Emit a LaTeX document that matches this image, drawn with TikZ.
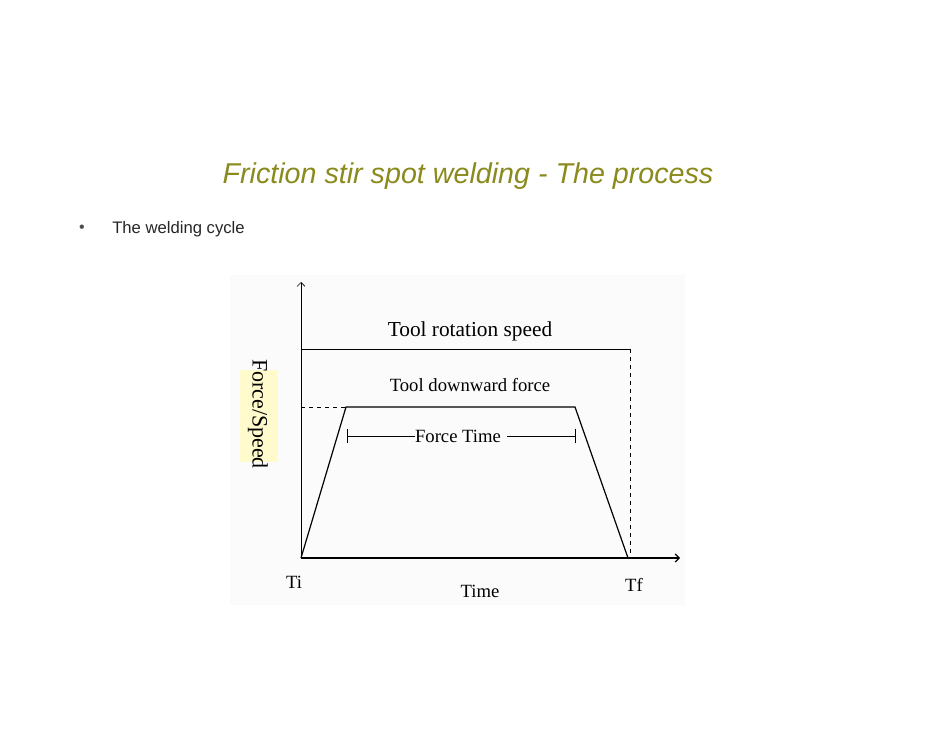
\documentclass[tikz,border=0pt]{standalone}
\usepackage{fontspec}
\setmainfont{Liberation Serif}
\newfontfamily\arialf{Liberation Sans}
\usetikzlibrary{arrows.meta}
\definecolor{olive}{HTML}{8A8A1E}
\definecolor{hl}{HTML}{FFFBCC}
\tikzset{ln/.style={line width=0.9pt},thin2/.style={line width=0.5pt},
 lab/.style={inner sep=0pt,font=\fontsize{14}{16}\selectfont}}
\begin{document}
\begin{tikzpicture}[x=0.75pt,y=-0.75pt]
\useasboundingbox (0,0) rectangle (942,728);
\fill[white] (0,0) rectangle (942,728);
\fill[black!1.5] (230,275) rectangle (685,605);
\node[inner sep=0pt,text=olive,font=\arialf\itshape\fontsize{21.5}{24}\selectfont] (title) at (468,176) {Friction stir spot welding - The process};
\node[inner sep=0pt,text=black!70,font=\arialf\fontsize{12}{14}\selectfont] (bul) at (82,229) {•};
\node[inner sep=0pt,anchor=west,text=black!85,font=\arialf\fontsize{12.5}{14}\selectfont] (wc) at (112,229) {The welding cycle};
\coordinate (O) at (301,558);
\coordinate (ytop) at (301,282);
\coordinate (xend) at (680,558);
\draw[thin2,-{Straight Barb[length=3pt]}] (O) -- (ytop);
\draw[ln,-{Straight Barb[length=3pt]}] (O) -- (xend);
\coordinate (r1) at (301,349); \coordinate (r2) at (630,349); \coordinate (r3) at (630,558);
\draw[thin2] (r1) -- (r2);
\draw[thin2,dashed] (r2) -- (r3);
\coordinate (f1) at (346,407); \coordinate (f2) at (575,407); \coordinate (f3) at (628,558);
\coordinate (fd) at (301,407);
\draw[thin2,dashed] (fd) -- (f1);
\draw[ln] (O) -- (f1) -- (f2) -- (f3);
\node[lab,font=\fontsize{16}{18}\selectfont] (trs) at (470,331) {Tool rotation speed};
\node[lab] (tdf) at (470,385) {Tool downward force};
\node[lab] (ft) at (458,436) {Force Time};
\coordinate (b1) at (347,436); \coordinate (b2) at (575,436);
\draw[thin2] (347,429) -- (347,443) (575,429) -- (575,443);
\draw[thin2] (b1) -- (ft.west);
\draw[thin2] (ft.east) ++(6,0) -- (b2);
\node[lab] (ti) at (294,582) {Ti};
\node[lab] (tm) at (480,591) {Time};
\node[lab] (tf) at (634,585) {Tf};
\fill[hl] (240,370) rectangle (278,462);
\node[lab,rotate=-90,font=\fontsize{16.5}{18}\selectfont] (fs) at (258,414) {Force/Speed};
\end{tikzpicture}
\end{document}
